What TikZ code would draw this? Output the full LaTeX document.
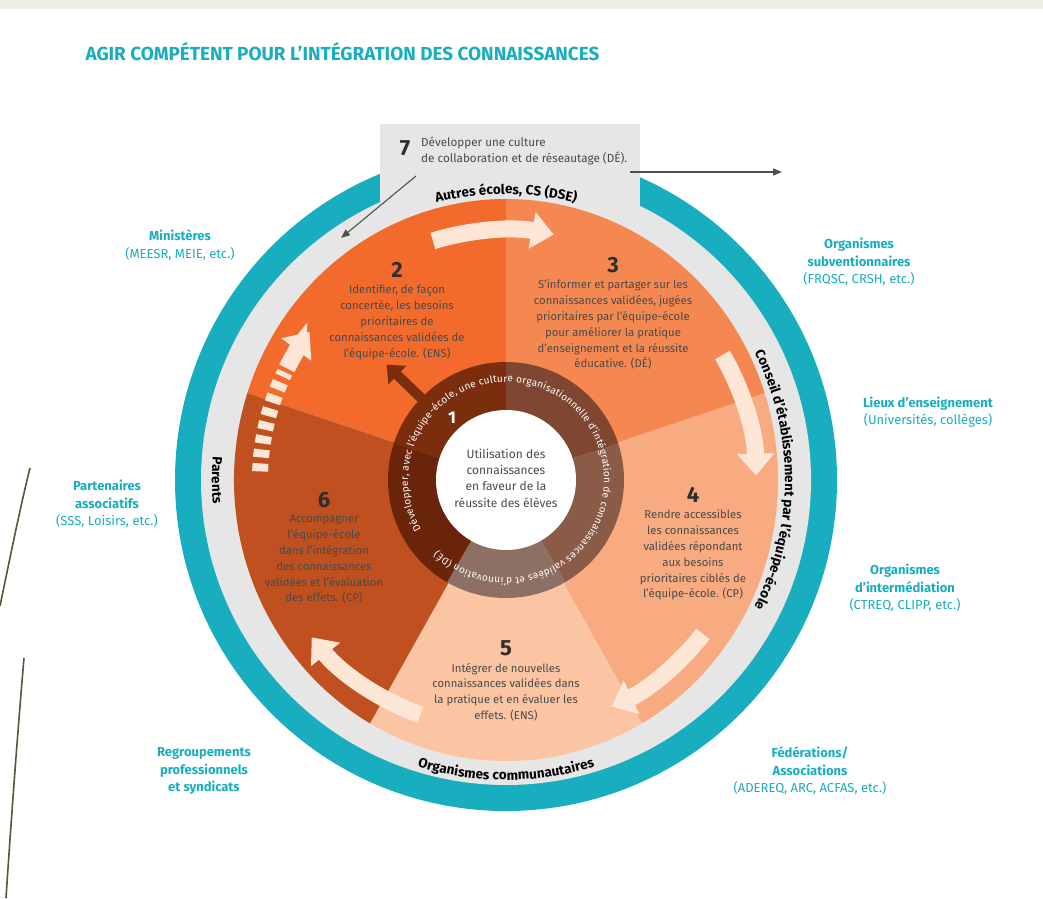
\documentclass[tikz,border=0pt]{standalone}
\usepackage{fontspec}
\setmainfont{Fira Sans}
\usetikzlibrary{positioning,calc,arrows.meta,decorations.text}

\definecolor{tealc}{HTML}{19AEBF}
\definecolor{ringgray}{HTML}{E6E6E6}
\definecolor{sec2}{HTML}{F26A2C}
\definecolor{sec3}{HTML}{F58850}
\definecolor{sec4}{HTML}{F8AA80}
\definecolor{sec5}{HTML}{FBC4A3}
\definecolor{sec6}{HTML}{C0501F}
\definecolor{ring2}{HTML}{7A2E0E}
\definecolor{ring3}{HTML}{7F4631}
\definecolor{ring4}{HTML}{8A5B47}
\definecolor{ring5}{HTML}{8D6F63}
\definecolor{ring6}{HTML}{6A240A}
\definecolor{arrowc}{HTML}{FDE6D6}
\definecolor{txtgray}{HTML}{4A4A4A}
\definecolor{numgray}{HTML}{2E2E2E}
\definecolor{linkgray}{HTML}{505050}
\definecolor{stripc}{HTML}{EEF0E8}
\definecolor{olivec}{HTML}{56573A}

\newcommand\graybandfont{\bfseries\fontsize{13.5}{13.5}\selectfont}
\newcommand\innerringfont{\fontsize{10}{10}\selectfont}

\begin{document}
\begin{tikzpicture}[x=1pt,y=1pt,
	sectornum/.style={inner sep=0pt,text=numgray,font=\bfseries\fontsize{22}{22}\selectfont},
	sectortext/.style={inner sep=0pt,align=center,text=txtgray,font=\fontsize{11.3}{15.8}\selectfont},
	partner/.style={inner sep=0pt,align=center,text=tealc,font=\fontsize{13}{17.5}\selectfont},
	flowarrow/.style={draw=arrowc,line width=17pt,-{Triangle[length=22pt,width=36pt]}},
	linkarrow/.style={draw=linkgray,line width=1.1pt,-{Triangle[length=9pt,width=7pt]}},
	boxseven/.style={fill=ringgray,minimum width=260pt,minimum height=106pt,inner sep=0pt}]
\useasboundingbox (0,0) rectangle (1043,898);
\fill[white] (0,0) rectangle (1043,898);
\fill[stripc] (0,889) rectangle (1043,898);
\draw[olivec,line width=1.6pt] (0,292) .. controls (10,340) and (20,390) .. (30,430);
\draw[olivec,line width=1.6pt] (6,0) .. controls (12,90) and (18,170) .. (24,240);

\coordinate (C) at (506,418);

% title
\node[anchor=west,text=tealc,font=\bfseries\fontsize{18.9}{21}\selectfont] (title) at (82,846)
	{AGIR COMPÉTENT POUR L'INTÉGRATION DES CONNAISSANCES};

% outer rings and box 7
\fill[tealc] (C) circle[radius=331];
\fill[ringgray] (C) circle[radius=305];
\node[boxseven] (box7) at (510,721) {};

% sectors 2 to 6
\fill[sec2] (C) -- ++(90:272 and 281) arc[start angle=90,end angle=162,x radius=272,y radius=281] -- cycle;
\fill[sec3] (C) -- ++(18:272 and 281) arc[start angle=18,end angle=90,x radius=272,y radius=281] -- cycle;
\fill[sec4] (C) -- ++(-60:272 and 281) arc[start angle=-60,end angle=18,x radius=272,y radius=281] -- cycle;
\fill[sec5] (C) -- ++(-120:272 and 281) arc[start angle=-120,end angle=-60,x radius=272,y radius=281] -- cycle;
\fill[sec6] (C) -- ++(162:272 and 281) arc[start angle=162,end angle=240,x radius=272,y radius=281] -- cycle;

% cycle arrows
\draw[flowarrow] ($(C)+(107:250)$) arc[start angle=107,end angle=79,radius=250];
\draw[flowarrow] ($(C)+(30:250)$) arc[start angle=30,end angle=1,radius=250];
\draw[flowarrow] ($(C)+(-38:250)$) arc[start angle=-38,end angle=-65,radius=250];
\draw[flowarrow] ($(C)+(-110:250)$) arc[start angle=-110,end angle=-141,radius=250];
\draw[draw=arrowc,line width=16pt,dash pattern=on 8pt off 6pt] ($(C)+(178:246)$) arc[start angle=178,end angle=154,radius=246];
\draw[flowarrow] ($(C)+(153:246)$) arc[start angle=153,end angle=143,radius=246];

% ring 1
\fill[ring2] (C) -- ++(90:118) arc[start angle=90,end angle=162,radius=118] -- cycle;
\fill[ring3] (C) -- ++(18:118) arc[start angle=18,end angle=90,radius=118] -- cycle;
\fill[ring4] (C) -- ++(-60:118) arc[start angle=-60,end angle=18,radius=118] -- cycle;
\fill[ring5] (C) -- ++(-120:118) arc[start angle=-120,end angle=-60,radius=118] -- cycle;
\fill[ring6] (C) -- ++(162:118) arc[start angle=162,end angle=240,radius=118] -- cycle;
\draw[ring2,line width=10pt,-{Triangle[length=15pt,width=25pt]}] ($(C)+(136:110)$) -- ($(C)+(136:166)$);
\fill[white] (C) circle[radius=70];
\path[decorate,decoration={text along path,text color=white,text align=fit to path,
	text={|\innerringfont|Développer, avec l'équipe-école, une culture organisationnelle d'intégration de connaissances validées et d'innovation (DÉ)}}]
	($(C)+(210:98)$) arc[start angle=210,end angle=-134,radius=98];
\node[inner sep=0pt,text=white,font=\bfseries\fontsize{17}{17}\selectfont] (n1) at (452,480) {1};
\node[sectortext,font=\fontsize{12}{16.3}\selectfont] (core) at (506,420)
	{Utilisation des\\connaissances\\en faveur de la\\réussite des élèves};

% gray band labels
\path[decorate,decoration={text along path,text align=center,text={|\graybandfont|Autres écoles, CS (DSE)}}]
	($(C)+(130:286)$) arc[start angle=130,end angle=50,radius=286];
\path[decorate,decoration={text along path,text align=center,text={|\graybandfont|Conseil d'établissement par l'équipe-école}}]
	($(C)+(45:279)$) arc[start angle=45,end angle=-45,radius=279];
\path[decorate,decoration={text along path,text align=center,text={|\graybandfont|Organismes communautaires}}]
	($(C)+(-130:300)$) arc[start angle=-130,end angle=-50,radius=300];
\path[decorate,decoration={text along path,text align=center,text={|\graybandfont|Parents}}]
	($(C)+(160:294)$) arc[start angle=160,end angle=200,radius=294];

% step 7
\node[sectornum] (n7) at (405,750) {7};
\node[sectortext,align=left,font=\fontsize{11.7}{16}\selectfont,anchor=north west] (t7) at (421,761)
	{Développer une culture\\de collaboration et de réseautage (DÉ).};
\coordinate (b7r) at (630,726);
\coordinate (r7) at (782,726);
\coordinate (b7l) at (416,722);
\coordinate (l7) at (341,660);
\draw[linkarrow] (b7r) -- (r7);
\draw[linkarrow] (b7l) -- (l7);

% steps 2 to 6
\node[sectornum] (n2) at (397,628) {2};
\node[sectortext,below=7pt of n2] (t2)
	{Identifier, de façon\\concertée, les besoins\\prioritaires de\\connaissances validées de\\l'équipe-école. (ENS)};
\node[sectornum] (n3) at (613,633) {3};
\node[sectortext,below=7pt of n3] (t3)
	{S'informer et partager sur les\\connaissances validées, jugées\\prioritaires par l'équipe-école\\pour améliorer la pratique\\d'enseignement et la réussite\\éducative. (DÉ)};
\node[sectornum] (n4) at (693,403) {4};
\node[sectortext,below=7pt of n4] (t4)
	{Rendre accessibles\\les connaissances\\validées répondant\\aux besoins\\prioritaires ciblés de\\l'équipe-école. (CP)};
\node[sectornum] (n5) at (506,250) {5};
\node[sectortext,below=7pt of n5] (t5)
	{Intégrer de nouvelles\\connaissances validées dans\\la pratique et en évaluer les\\effets. (ENS)};
\node[sectornum] (n6) at (324,398) {6};
\node[sectortext,below=7pt of n6] (t6)
	{Accompagner\\l'équipe-école\\dans l'intégration\\des connaissances\\validées et l'évaluation\\des effets. (CP)};

% partners
\node[partner] (minist) at (180,653) {\textbf{Ministères}\\(MEESR, MEIE, etc.)};
\node[partner] (subv) at (859,636) {\textbf{Organismes}\\\textbf{subventionnaires}\\(FRQSC, CRSH, etc.)};
\node[partner] (lieux) at (928,486) {\textbf{Lieux d'enseignement}\\(Universités, collèges)};
\node[partner] (interm) at (905,310) {\textbf{Organismes}\\\textbf{d'intermédiation}\\(CTREQ, CLIPP, etc.)};
\node[partner] (fede) at (810,127) {\textbf{Fédérations/}\\\textbf{Associations}\\(ADEREQ, ARC, ACFAS, etc.)};
\node[partner] (regroup) at (204,127) {\textbf{Regroupements}\\\textbf{professionnels}\\\textbf{et syndicats}};
\node[partner] (assoc) at (107,394) {\textbf{Partenaires}\\\textbf{associatifs}\\(SSS, Loisirs, etc.)};
\end{tikzpicture}
\end{document}
